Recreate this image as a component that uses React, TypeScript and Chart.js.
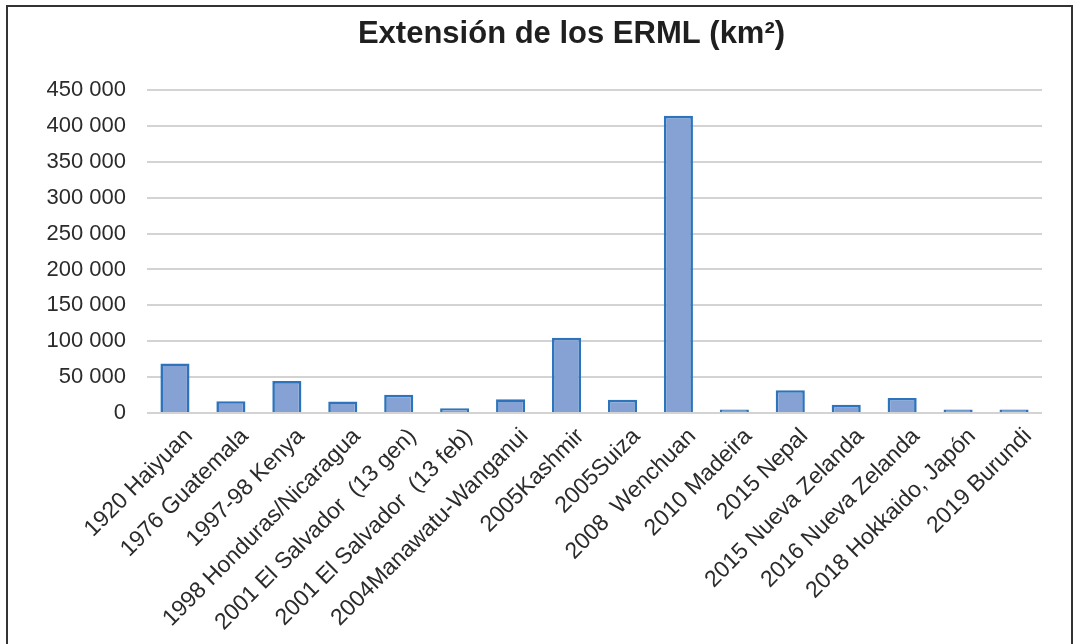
import React, { useEffect, useRef } from 'react';
import { Chart, registerables } from 'chart.js';

Chart.register(...registerables);

const titleText = 'Extensión de los ERML (km²)';

const categories = [
  '1920 Haiyuan',
  '1976 Guatemala',
  '1997-98 Kenya',
  '1998 Honduras/Nicaragua',
  '2001 El Salvador  (13 gen)',
  '2001 El Salvador  (13 feb)',
  '2004Manawatu-Wanganui',
  '2005Kashmir',
  '2005Suiza',
  '2008  Wenchuan',
  '2010 Madeira',
  '2015 Nepal',
  '2015 Nueva Zelanda',
  '2016 Nueva Zelanda',
  '2018 Hokkaido, Japón',
  '2019 Burundi',
];

const areaKm2 = [
  69000, 16500, 44500, 16000, 25500, 6500, 19000, 105000,
  18500, 414000, 4800, 31800, 11400, 20900, 4800, 4800,
];

const yMin = 0;
const yMax = 450000;
const yStep = 50000;

const FONT = "'Liberation Sans', Arial, Helvetica, sans-serif";

function fmt(v: number): string {
  return String(v).replace(/\B(?=(\d{3})+(?!\d))/g, ' ');
}

export default function App() {
  const ref = useRef<HTMLCanvasElement | null>(null);

  useEffect(() => {
    if (!ref.current) return;
    const titlePlugin = {
      id: 'customTitle',
      afterDraw(chart: any) {
        const { ctx, chartArea } = chart;
        ctx.save();
        ctx.font = `bold 31px ${FONT}`;
        ctx.fillStyle = '#1f1f1f';
        ctx.textAlign = 'center';
        ctx.textBaseline = 'alphabetic';
        const cx = (chartArea.left + chartArea.right) / 2 - 23;
        ctx.fillText(titleText, cx, 43);
        ctx.restore();
      },
    };
    const chart = new Chart(ref.current, {
      type: 'bar',
      data: {
        labels: categories,
        datasets: [
          {
            data: areaKm2,
            backgroundColor: '#86A2D5',
            borderColor: '#2E74BC',
            borderWidth: 2.6,
            barPercentage: 0.52,
            categoryPercentage: 1,
          },
        ],
      },
      options: {
        animation: false,
        responsive: false,
        maintainAspectRatio: false,
        layout: { padding: { top: 90, right: 33, left: 0, bottom: 0 } },
        plugins: {
          legend: { display: false },
          title: { display: false },
          tooltip: { enabled: false },
        },
        scales: {
          x: {
            grid: { display: false },
            border: { display: false },
            ticks: {
              font: { family: FONT, size: 23 },
              color: '#2b2b2b',
              maxRotation: 45,
              minRotation: 45,
              autoSkip: false,
              padding: 2,
              labelOffset: 14,
            },
            afterFit: (s: any) => {
              s.height = 231;
            },
          },
          y: {
            min: yMin,
            max: yMax,
            ticks: {
              stepSize: yStep,
              font: { family: FONT, size: 22 },
              color: '#2b2b2b',
              padding: 21,
              callback: (v: any) => fmt(Number(v)),
            },
            grid: { color: '#D3D3D3', lineWidth: 2, drawTicks: false },
            border: { display: false },
            afterFit: (s: any) => {
              s.width = 147;
            },
          },
        },
      },
      plugins: [titlePlugin],
    });
    return () => chart.destroy();
  }, []);

  return (
    <div
      style={{
        position: 'absolute',
        left: 0,
        top: 0,
        width: 1075,
        height: 644,
        background: '#ffffff',
        overflow: 'hidden',
      }}
    >
      <div
        style={{
          position: 'absolute',
          left: 6,
          top: 5,
          width: 1067,
          height: 700,
          border: '2px solid #333333',
          boxSizing: 'border-box',
        }}
      />
      <canvas
        ref={ref}
        width={1075}
        height={644}
        style={{ position: 'absolute', left: 0, top: 0 }}
      />
    </div>
  );
}
